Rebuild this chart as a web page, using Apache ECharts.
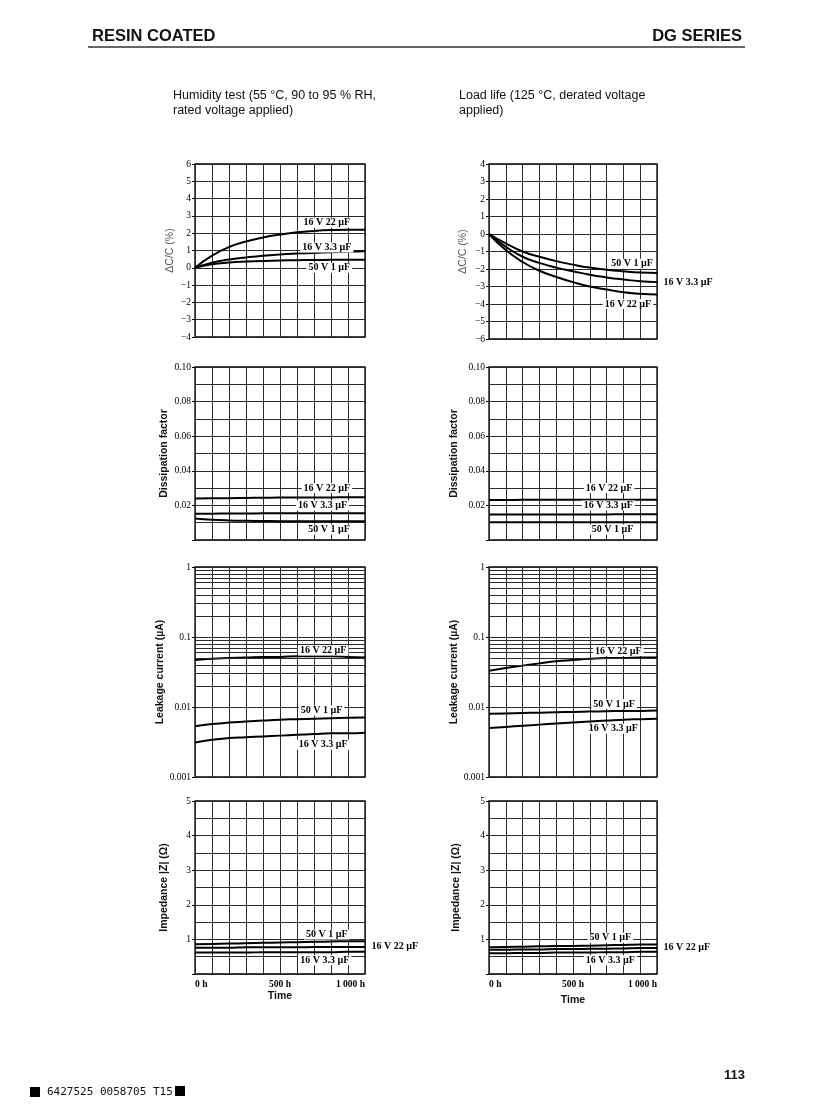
<!DOCTYPE html>
<html>
<head>
<meta charset="utf-8">
<script src="https://cdn.jsdelivr.net/npm/echarts@6/dist/echarts.min.js"></script>
<style>
html,body{margin:0;padding:0;background:#fff;}
#page{width:832px;height:1113px;}
</style>
</head>
<body>
<div id="page"></div>
<script>
// time axis (h)
var hours = [0, 100, 200, 300, 400, 500, 600, 700, 800, 900, 1000];

// humidity test : capacitance change (%)
var humDc22 = [0, 0.7, 1.2, 1.52, 1.75, 1.92, 2.05, 2.13, 2.18, 2.2, 2.2];
var humDc33 = [0, 0.3, 0.48, 0.6, 0.7, 0.77, 0.82, 0.86, 0.9, 0.93, 0.95];
var humDc1 = [0, 0.2, 0.3, 0.36, 0.4, 0.42, 0.44, 0.45, 0.46, 0.47, 0.47];
// load life : capacitance change (%)
var loadDc1 = [0, -0.54, -1.0, -1.3, -1.55, -1.75, -1.92, -2.04, -2.13, -2.2, -2.23];
var loadDc33 = [0, -0.73, -1.3, -1.65, -1.92, -2.13, -2.33, -2.48, -2.6, -2.7, -2.75];
var loadDc22 = [0, -0.92, -1.6, -2.1, -2.45, -2.75, -3.0, -3.17, -3.33, -3.42, -3.45];

// dissipation factor
var humDf22 = [0.024, 0.0241, 0.0242, 0.0243, 0.0244, 0.0245, 0.0245, 0.0246, 0.0246, 0.0247, 0.0247];
var humDf33 = [0.0152, 0.0152, 0.0153, 0.0153, 0.0154, 0.0154, 0.0155, 0.0155, 0.0155, 0.0155, 0.0155];
var humDf1 = [0.0124, 0.0117, 0.0113, 0.0111, 0.011, 0.0109, 0.0109, 0.0109, 0.0109, 0.0109, 0.0109];
var loadDf22 = [0.0231, 0.0231, 0.0232, 0.0232, 0.0232, 0.0233, 0.0233, 0.0233, 0.0233, 0.0233, 0.0233];
var loadDf33 = [0.0147, 0.0147, 0.0147, 0.0148, 0.0148, 0.0148, 0.0148, 0.0148, 0.0149, 0.0149, 0.0149];
var loadDf1 = [0.0103, 0.0103, 0.0103, 0.0103, 0.0103, 0.0103, 0.0103, 0.0103, 0.0103, 0.0103, 0.0103];

// leakage current (uA)
var humLc22 = [0.047, 0.049, 0.05, 0.051, 0.052, 0.052, 0.053, 0.053, 0.053, 0.052, 0.051];
var humLc1 = [0.0053, 0.0057, 0.006, 0.0062, 0.0064, 0.0066, 0.0067, 0.0068, 0.0069, 0.007, 0.0071];
var humLc33 = [0.0031, 0.0034, 0.0036, 0.0037, 0.0038, 0.0039, 0.004, 0.0041, 0.0042, 0.0042, 0.0043];
var loadLc22 = [0.033, 0.036, 0.039, 0.042, 0.045, 0.047, 0.049, 0.05, 0.05, 0.051, 0.051];
var loadLc1 = [0.008, 0.0081, 0.0082, 0.0083, 0.0084, 0.0085, 0.0086, 0.0087, 0.0088, 0.0088, 0.0089];
var loadLc33 = [0.005, 0.0052, 0.0054, 0.0056, 0.0058, 0.006, 0.0062, 0.0064, 0.0066, 0.0067, 0.0068];

// impedance (ohm)
var humZ1 = [0.86, 0.87, 0.88, 0.89, 0.9, 0.91, 0.92, 0.93, 0.94, 0.95, 0.95];
var humZ22 = [0.76, 0.76, 0.76, 0.77, 0.77, 0.77, 0.77, 0.78, 0.78, 0.78, 0.78];
var humZ33 = [0.62, 0.62, 0.62, 0.62, 0.63, 0.63, 0.63, 0.63, 0.63, 0.64, 0.64];
var loadZ1 = [0.77, 0.78, 0.79, 0.8, 0.81, 0.81, 0.82, 0.83, 0.84, 0.85, 0.85];
var loadZ22 = [0.7, 0.7, 0.71, 0.71, 0.72, 0.72, 0.73, 0.73, 0.74, 0.75, 0.75];
var loadZ33 = [0.6, 0.6, 0.61, 0.61, 0.62, 0.62, 0.62, 0.63, 0.63, 0.64, 0.64];

// curve captions: [hours, value, text, outside]
var humDcTags = [[776, 2.6, '16 V 22 µF'], [776, 1.18, '16 V 3.3 µF'], [790, 0, '50 V 1 µF']];
var loadDcTags = [[851, -1.7, '50 V 1 µF'], [1000, -2.75, '16 V 3.3 µF', 1], [827, -4.0, '16 V 22 µF']];
var humDfTags = [[776, 0.03, '16 V 22 µF'], [750, 0.02, '16 V 3.3 µF'], [788, 0.006, '50 V 1 µF']];
var loadDfTags = [[715, 0.03, '16 V 22 µF'], [710, 0.02, '16 V 3.3 µF'], [735, 0.006, '50 V 1 µF']];
var humLcTags = [[754, 0.064, '16 V 22 µF'], [745, 0.0089, '50 V 1 µF'], [754, 0.0029, '16 V 3.3 µF']];
var loadLcTags = [[770, 0.063, '16 V 22 µF'], [745, 0.011, '50 V 1 µF'], [740, 0.0049, '16 V 3.3 µF']];
var humZTags = [[775, 1.14, '50 V 1 µF'], [1000, 0.8, '16 V 22 µF', 1], [763, 0.4, '16 V 3.3 µF']];
var loadZTags = [[722, 1.05, '50 V 1 µF'], [1000, 0.76, '16 V 22 µF', 1], [722, 0.4, '16 V 3.3 µF']];

var myChart = echarts.init(document.getElementById('page'));

var serif = "'Liberation Serif', 'DejaVu Serif', serif";
var sans = "'Liberation Sans', Arial, sans-serif";

var grids = [
    {left: 195, top: 164, width: 170, height: 173},
    {left: 489, top: 164, width: 168, height: 175},
    {left: 195, top: 367, width: 170, height: 173},
    {left: 489, top: 367, width: 168, height: 173},
    {left: 195, top: 567, width: 170, height: 210},
    {left: 489, top: 567, width: 168, height: 210},
    {left: 195, top: 801, width: 170, height: 173},
    {left: 489, top: 801, width: 168, height: 173}
];
grids.forEach(function (g) {
    g.show = true;
    g.borderColor = '#000';
    g.borderWidth = 1.3;
    g.backgroundColor = '#fff';
});

var gridLine = {show: true, lineStyle: {color: '#2a2a2a', width: 1}};
var tickLabel = {color: '#000', fontFamily: serif, fontSize: 9.5, margin: 4};

function dcLabel(v) { return v < 0 ? '\u2212' + Math.abs(v) : String(v); }
function dfLabel(v) {
    var k = Math.round(v * 100);
    return k > 0 ? (k / 100).toFixed(2) : '';
}
function lcLabel(v) {
    var e = Math.round(Math.log(v) / Math.LN10);
    return e >= 0 ? '1' : Math.pow(10, e).toFixed(-e);
}
function zLabel(v) { return v > 0 ? String(v) : ''; }

function yName(text, bold, gap) {
    return {
        name: text, nameLocation: 'middle', nameRotate: 90, nameGap: gap,
        nameTextStyle: {fontFamily: sans, fontSize: 10.5, fontWeight: bold ? 'bold' : 'normal', color: bold ? '#111' : '#555'}
    };
}

var yAxes = [];
function addY(i, cfg, name) {
    var y = {
        gridIndex: i,
        axisLine: {show: false},
        axisTick: {show: true, length: 3, lineStyle: {color: '#000'}},
        splitLine: gridLine,
        axisLabel: Object.assign({}, tickLabel, {formatter: cfg.fmt})
    };
    if (cfg.log) {
        y.type = 'log'; y.logBase = 10; y.min = 0.001; y.max = 1;
    } else {
        y.type = 'value'; y.min = cfg.min; y.max = cfg.max; y.interval = cfg.step;
        if (cfg.minor) {
            y.minorTick = {show: false, splitNumber: cfg.minor};
            y.minorSplitLine = gridLine;
        }
    }
    Object.assign(y, name);
    yAxes[i] = y;
}
addY(0, {min: -4, max: 6, step: 1, fmt: dcLabel}, yName('ΔC/C (%)', false, 19));
addY(1, {min: -6, max: 4, step: 1, fmt: dcLabel}, yName('ΔC/C (%)', false, 20));
addY(2, {min: 0, max: 0.1, step: 0.02, minor: 2, fmt: dfLabel}, yName('Dissipation factor', true, 25));
addY(3, {min: 0, max: 0.1, step: 0.02, minor: 2, fmt: dfLabel}, yName('Dissipation factor', true, 29));
addY(4, {log: true, fmt: lcLabel}, yName('Leakage current (µA)', true, 25));
addY(5, {log: true, fmt: lcLabel}, yName('Leakage current (µA)', true, 27));
addY(6, {min: 0, max: 5, step: 1, minor: 2, fmt: zLabel}, yName('Impedance |Z| (Ω)', true, 25));
addY(7, {min: 0, max: 5, step: 1, minor: 2, fmt: zLabel}, yName('Impedance |Z| (Ω)', true, 27));

var xAxes = grids.map(function (g, i) {
    var bottom = i >= 6;
    return {
        type: 'value', gridIndex: i, min: 0, max: 1000, interval: 100,
        axisLine: {show: false},
        axisTick: {show: false},
        splitLine: gridLine,
        name: bottom ? 'Time' : '',
        nameLocation: 'middle',
        nameGap: i === 6 ? 16 : 21,
        nameTextStyle: {fontFamily: sans, fontSize: 10.5, fontWeight: 'bold', color: '#111'},
        axisLabel: {
            show: bottom,
            color: '#000', fontFamily: serif, fontSize: 9.5, fontWeight: 'bold', margin: 6,
            alignMinLabel: 'left', alignMaxLabel: 'right',
            formatter: function (v) {
                if (v === 0) return '0 h';
                if (v === 500) return '500 h';
                if (v === 1000) return '1 000 h';
                return '';
            }
        }
    };
});

function pairs(arr) {
    return hours.map(function (h, k) { return [h, arr[k]]; });
}

var series = [];
function curves(i, list) {
    list.forEach(function (arr) {
        series.push({
            type: 'line', xAxisIndex: i, yAxisIndex: i, data: pairs(arr),
            smooth: true, showSymbol: false, z: 4,
            lineStyle: {color: '#000', width: 2}
        });
    });
}
function tags(i, list) {
    series.push({
        type: 'scatter', xAxisIndex: i, yAxisIndex: i, z: 6, symbolSize: 1, clip: false,
        itemStyle: {color: '#fff', opacity: 0},
        data: list.map(function (t) {
            return {
                value: [t[0], t[1]],
                label: {
                    show: true, formatter: t[2],
                    position: t[3] ? 'right' : 'inside',
                    distance: 4,
                    fontFamily: serif, fontSize: 10, fontWeight: 'bold', color: '#000', opacity: 1,
                    textBorderWidth: 0,
                    backgroundColor: t[3] ? 'transparent' : '#fff', padding: [0, 2]
                }
            };
        })
    });
}
function minorLog(i) {
    var lines = [];
    [0.001, 0.01, 0.1].forEach(function (d) {
        for (var k = 2; k <= 9; k++) lines.push({yAxis: +(d * k).toPrecision(3)});
    });
    series.push({
        type: 'line', xAxisIndex: i, yAxisIndex: i, data: [], z: 2,
        markLine: {
            silent: true, symbol: 'none', animation: false,
            label: {show: false},
            lineStyle: {color: '#2a2a2a', width: 1, type: 'solid'},
            data: lines
        }
    });
}

minorLog(4); minorLog(5);
curves(0, [humDc22, humDc33, humDc1]); tags(0, humDcTags);
curves(1, [loadDc1, loadDc33, loadDc22]); tags(1, loadDcTags);
curves(2, [humDf22, humDf33, humDf1]); tags(2, humDfTags);
curves(3, [loadDf22, loadDf33, loadDf1]); tags(3, loadDfTags);
curves(4, [humLc22, humLc1, humLc33]); tags(4, humLcTags);
curves(5, [loadLc22, loadLc1, loadLc33]); tags(5, loadLcTags);
curves(6, [humZ1, humZ22, humZ33]); tags(6, humZTags);
curves(7, [loadZ1, loadZ22, loadZ33]); tags(7, loadZTags);

function txt(x, y, text, size, weight, align, family) {
    return {
        type: 'text', x: x, y: y, silent: true,
        style: {
            text: text, fill: '#111', fontSize: size, fontWeight: weight || 'normal',
            fontFamily: family || sans, align: align || 'left', verticalAlign: 'middle'
        }
    };
}

var option = {
    animation: false,
    backgroundColor: '#fff',
    grid: grids,
    xAxis: xAxes,
    yAxis: yAxes,
    series: series,
    graphic: [
        txt(92, 36, 'RESIN COATED', 16.5, 'bold'),
        txt(742, 36, 'DG SERIES', 16.5, 'bold', 'right'),
        {type: 'line', silent: true, shape: {x1: 88, y1: 47, x2: 745, y2: 47}, style: {stroke: '#333', lineWidth: 1.3}},
        txt(173, 96, 'Humidity test (55 °C, 90 to 95 % RH,', 12.5),
        txt(173, 111, 'rated voltage applied)', 12.5),
        txt(459, 96, 'Load life (125 °C, derated voltage', 12.5),
        txt(459, 111, 'applied)', 12.5),
        txt(745, 1075, '113', 13, 'bold', 'right'),
        {type: 'rect', silent: true, shape: {x: 30, y: 1087, width: 10, height: 10}, style: {fill: '#000'}},
        txt(47, 1092, '6427525 0058705 T15', 11, 'normal', 'left', "'DejaVu Sans Mono', monospace"),
        {type: 'rect', silent: true, shape: {x: 175, y: 1086, width: 10, height: 10}, style: {fill: '#000'}}
    ]
};

myChart.setOption(option);    //载入图表
</script>
</body>
</html>
